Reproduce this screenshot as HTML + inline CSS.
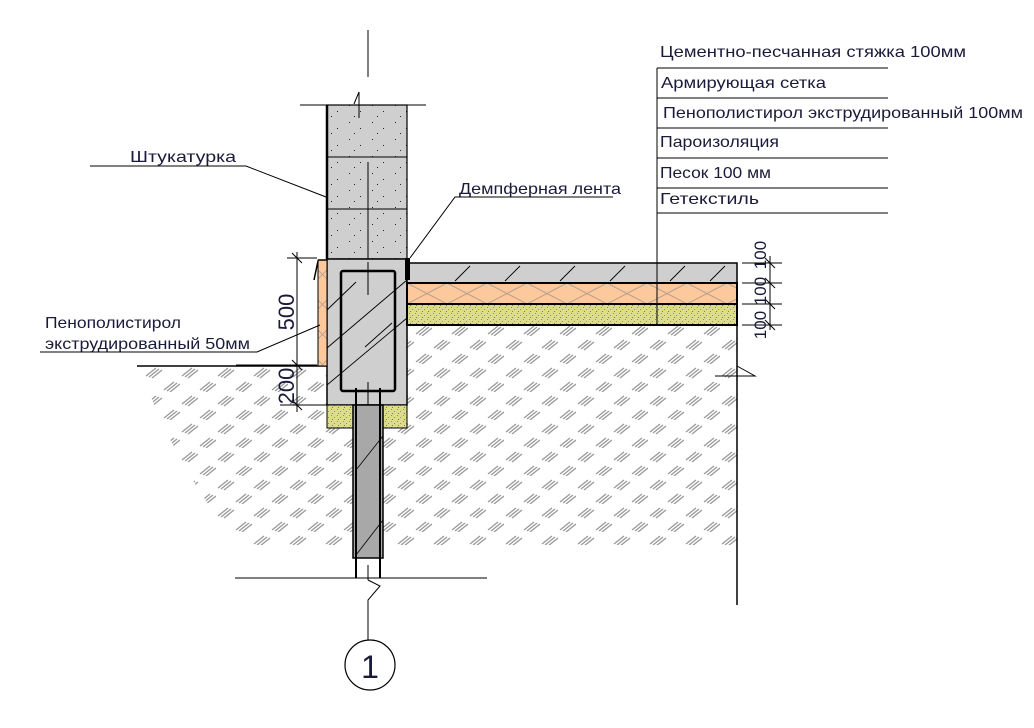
<!DOCTYPE html>
<html><head><meta charset="utf-8"><style>
html,body{margin:0;padding:0;background:#fff;}
svg{display:block;}
text{font-family:"Liberation Sans","DejaVu Sans",sans-serif;fill:#1a1a3a;}
</style></head><body>
<svg width="1034" height="728" viewBox="0 0 1034 728" xmlns="http://www.w3.org/2000/svg">
<defs>
<pattern id="soil" width="36" height="28" patternUnits="userSpaceOnUse">
<g stroke="#999" stroke-width="1.3">
<line x1="2" y1="12" x2="12" y2="4"/><line x1="5" y1="13" x2="15" y2="5"/><line x1="8" y1="14" x2="18" y2="6"/>
<line x1="20" y1="26" x2="30" y2="18"/><line x1="23" y1="27" x2="33" y2="19"/><line x1="26" y1="28" x2="36" y2="20"/>
</g></pattern>
<pattern id="sand" width="6" height="6" patternUnits="userSpaceOnUse">
<rect width="6" height="6" fill="#dcdc8c"/><rect x="1" y="1" width="1" height="1" fill="#8a8ab0"/><rect x="4" y="3" width="1" height="1" fill="#8a8ab0"/><rect x="2" y="5" width="1" height="1" fill="#777"/>
</pattern>
<pattern id="eps" width="40" height="21" patternUnits="userSpaceOnUse" x="407" y="283">
<rect width="40" height="21" fill="#fdc99c"/><path d="M0 0L40 21M40 0L0 21" stroke="#b8a090" stroke-width="1"/>
</pattern>
<pattern id="eps2" width="9" height="30" patternUnits="userSpaceOnUse" x="318">
<rect width="9" height="30" fill="#fdc99c"/><path d="M0 0L9 9M9 0L0 9" stroke="#b8a090" stroke-width="0.8"/>
</pattern>
<pattern id="dots" width="23" height="17" patternUnits="userSpaceOnUse">
<rect width="23" height="17" fill="#cfcfcf"/><rect x="4" y="3" width="1" height="1" fill="#222"/><rect x="15" y="9" width="1" height="1" fill="#222"/><rect x="9" y="14" width="1" height="1" fill="#222"/>
</pattern>
</defs>

<!-- soil -->
<path d="M140 366 L327 366 L327 428 L407 428 L407 325 L737 325 L737 545 L240 545 C200 500 160 430 140 366Z" fill="url(#soil)"/>
<line x1="137" y1="366" x2="327" y2="366" stroke="#000" stroke-width="1.5"/>
<line x1="737" y1="325" x2="737" y2="605" stroke="#000" stroke-width="1.5"/>
<path d="M737 366 L755 376 L715 376" fill="none" stroke="#000" stroke-width="1"/>

<!-- wall -->
<rect x="327" y="105" width="80" height="154" fill="url(#dots)" stroke="#000" stroke-width="1.2"/>
<line x1="327" y1="105" x2="327" y2="259" stroke="#000" stroke-width="2.5"/>
<line x1="327" y1="157" x2="407" y2="157" stroke="#000"/>
<line x1="327" y1="209" x2="407" y2="209" stroke="#000"/>
<line x1="368" y1="162" x2="368" y2="259" stroke="#000"/>
<line x1="300" y1="105" x2="426" y2="105" stroke="#000"/>
<line x1="368" y1="30" x2="368" y2="77" stroke="#000"/>
<path d="M354 104 L359 92 L359 118" fill="none" stroke="#000"/>

<!-- beam -->
<rect x="327" y="259" width="80" height="146" fill="#cfcfcf" stroke="#000" stroke-width="1.5"/>
<g stroke="#000" stroke-width="0.9">
<line x1="327" y1="310" x2="356" y2="282"/><line x1="327" y1="348" x2="407" y2="280"/><line x1="365" y1="347" x2="392" y2="323"/><line x1="327" y1="385" x2="407" y2="318"/>
</g>
<rect x="341" y="271" width="54" height="120" fill="none" stroke="#000" stroke-width="2.5" rx="2"/>
<line x1="368" y1="262" x2="368" y2="295" stroke="#000"/>
<line x1="368" y1="382" x2="368" y2="405" stroke="#000"/>
<rect x="327" y="405" width="80" height="23" fill="url(#sand)" stroke="#000"/>
<!-- pile -->
<rect x="353" y="405" width="30" height="153" fill="#a8a8a8" stroke="#000" stroke-width="1.5"/>
<line x1="356" y1="388" x2="356" y2="558" stroke="#000" stroke-width="2"/>
<line x1="380" y1="388" x2="380" y2="558" stroke="#000" stroke-width="2"/>
<line x1="356" y1="555" x2="383" y2="520" stroke="#000" stroke-width="0.8"/>
<line x1="356" y1="470" x2="383" y2="436" stroke="#000" stroke-width="0.8"/>
<line x1="356" y1="558" x2="356" y2="578" stroke="#000" stroke-width="2"/>
<line x1="380" y1="558" x2="380" y2="578" stroke="#000" stroke-width="2"/>
<line x1="235" y1="578" x2="487" y2="578" stroke="#000"/>
<line x1="368" y1="565" x2="368" y2="580" stroke="#000"/>
<path d="M368 580 L380 586 L368 600 L368 640" fill="none" stroke="#000"/>
<circle cx="370" cy="665" r="25" fill="#fff" stroke="#000" stroke-width="1.2"/>
<text x="370" y="678" font-size="32" text-anchor="middle" fill="#000">1</text>

<!-- insulation -->
<rect x="318" y="260" width="9" height="106" fill="url(#eps2)" stroke="#000"/>
<path d="M318 260 L327 260 M318 261 L314 280" stroke="#000" stroke-width="1.5" fill="none"/>

<!-- floor -->
<rect x="407" y="263" width="330" height="20" fill="#cfcfcf" stroke="#000" stroke-width="1.5"/>
<g stroke="#000" stroke-width="0.9">
<line x1="455" y1="281" x2="470" y2="266"/><line x1="505" y1="281" x2="520" y2="266"/><line x1="560" y1="281" x2="575" y2="266"/><line x1="610" y1="281" x2="625" y2="266"/><line x1="670" y1="281" x2="685" y2="266"/><line x1="710" y1="281" x2="725" y2="266"/>
</g>
<rect x="407" y="283" width="330" height="21" fill="url(#eps)" stroke="#000" stroke-width="2"/>
<rect x="407" y="304" width="330" height="21" fill="url(#sand)" stroke="#000" stroke-width="2"/>
<rect x="405" y="258" width="5" height="22" fill="#000"/>

<!-- table -->
<line x1="657" y1="68" x2="657" y2="325" stroke="#000"/>
<g stroke="#000"><line x1="657" y1="68" x2="888" y2="68"/><line x1="657" y1="98" x2="888" y2="98"/><line x1="657" y1="128" x2="888" y2="128"/><line x1="657" y1="158" x2="888" y2="158"/><line x1="657" y1="188" x2="888" y2="188"/><line x1="657" y1="213" x2="888" y2="213"/></g>
<g font-size="16">
<text x="660" y="57" textLength="306" lengthAdjust="spacingAndGlyphs">Цементно-песчанная стяжка 100мм</text>
<text x="661" y="88" textLength="165" lengthAdjust="spacingAndGlyphs">Армирующая сетка</text>
<text x="663" y="118" textLength="360" lengthAdjust="spacingAndGlyphs">Пенополистирол экструдированный 100мм</text>
<text x="660" y="147" textLength="119" lengthAdjust="spacingAndGlyphs">Пароизоляция</text>
<text x="660" y="178" textLength="111" lengthAdjust="spacingAndGlyphs">Песок 100 мм</text>
<text x="660" y="204" textLength="99" lengthAdjust="spacingAndGlyphs">Гетекстиль</text>
<text x="130" y="162" textLength="106" lengthAdjust="spacingAndGlyphs">Штукатурка</text>
<text x="459" y="194" textLength="162" lengthAdjust="spacingAndGlyphs">Демпферная лента</text>
<text x="45" y="328" textLength="136" lengthAdjust="spacingAndGlyphs">Пенополистирол</text>
<text x="45" y="349" textLength="205" lengthAdjust="spacingAndGlyphs">экструдированный 50мм</text>
</g>
<g stroke="#000" stroke-width="1" fill="none">
<path d="M90 166 L246 166 L326 197"/>
<path d="M613 197 L455 197 L410 258"/>
<path d="M40 352 L257 352 L320 325"/>
</g>

<!-- left dims -->
<g stroke="#000" stroke-width="1">
<line x1="297" y1="252" x2="297" y2="412"/>
<line x1="287" y1="258" x2="317" y2="258"/><line x1="292" y1="253" x2="302" y2="263"/>
<line x1="236" y1="365" x2="317" y2="365"/><line x1="292" y1="360" x2="302" y2="370"/>
<line x1="280" y1="405" x2="327" y2="405"/><line x1="292" y1="400" x2="302" y2="410"/>
</g>
<text transform="translate(294,312) rotate(-90)" font-size="22" text-anchor="middle" fill="#000">500</text>
<text transform="translate(294,386) rotate(-90)" font-size="22" text-anchor="middle" fill="#000">200</text>

<!-- right dims -->
<g stroke="#000" stroke-width="1">
<line x1="770" y1="256" x2="770" y2="330"/>
<line x1="742" y1="263" x2="782" y2="263"/><line x1="765" y1="258" x2="775" y2="268"/>
<line x1="742" y1="283" x2="782" y2="283"/><line x1="765" y1="278" x2="775" y2="288"/>
<line x1="742" y1="304" x2="782" y2="304"/><line x1="765" y1="299" x2="775" y2="309"/>
<line x1="742" y1="325" x2="782" y2="325"/><line x1="765" y1="320" x2="775" y2="330"/>
</g>
<g font-size="17" fill="#000">
<text transform="translate(766,255) rotate(-90)" text-anchor="middle">100</text>
<text transform="translate(766,291) rotate(-90)" text-anchor="middle">100</text>
<text transform="translate(766,325) rotate(-90)" text-anchor="middle">100</text>
</g>
</svg>
</body></html>
